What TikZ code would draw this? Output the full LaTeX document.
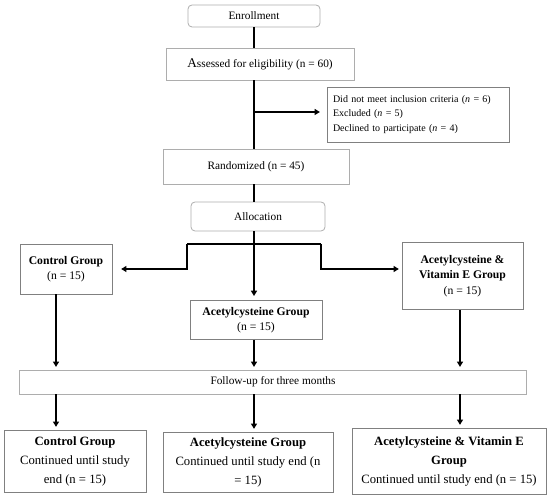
\documentclass[tikz,border=0pt]{standalone}
\usepackage{fontspec}
\setmainfont{Liberation Serif}
\usetikzlibrary{arrows.meta, positioning}
\definecolor{boxgray}{gray}{0.68}
\definecolor{grpgray}{gray}{0.5}
\tikzset{stage/.style={draw=boxgray, line width=0.6pt, align=center, inner sep=0pt,
                       font=\fontsize{8.5}{10}\selectfont},
         phase/.style={stage, rounded corners=3pt},
         group/.style={draw=grpgray, line width=0.7pt, align=center, inner sep=0pt,
                       font=\fontsize{8.75}{11.5}\selectfont},
         final/.style={group, font=\fontsize{9.5}{14.25}\selectfont},
         flow/.style={line width=1.1pt},
         arr/.style={flow, -{Triangle[length=4pt,width=4.5pt]}, shorten >=2pt}}

\begin{document}
\begin{tikzpicture}[x=0.75pt, y=-0.75pt]
\useasboundingbox (0,0) rectangle (550,498);
% stages
\node[phase, minimum width=99pt, minimum height=16.5pt] (enroll) at (254,16) {Enrollment};
\node[stage, minimum width=141pt, minimum height=24pt] (assess) at (260,64)
    {{\fontsize{10}{10}\selectfont A}ssessed for eligibility (n = 60)};
\node[stage, draw=grpgray, text width=127.5pt, inner xsep=4.5pt, align=left,
      minimum height=41.25pt, font=\fontsize{7.5}{11}\selectfont] (excl) at (418,114.5)
    {Did not meet inclusion criteria (\textit{n} = 6)\\
     Excluded (\textit{n} = 5)\\
     Declined to participate (\textit{n} = 4)};
\node[stage, minimum width=139.5pt, minimum height=26.25pt] (rand) at (256,166.5) {Randomized (n = 45)};
\node[phase, minimum width=100.5pt, minimum height=21.75pt] (alloc) at (258,216.5) {Allocation};
% groups
\node[group, minimum width=69pt, minimum height=37.5pt] (ctrl) at (66,269)
    {\textbf{Control Group}\\(n = 15)};
\node[group, minimum width=99pt, minimum height=29.25pt] (acet) at (256,320)
    {\textbf{Acetylcysteine Group}\\(n = 15)};
\node[group, minimum width=90.75pt, minimum height=50.6pt] (acvit) at (462.5,276)
    {\textbf{Acetylcysteine \&}\\\textbf{Vitamin E Group}\\(n = 15)};
\node[stage, minimum width=380pt, minimum height=18pt] (follow) at (273,382) {Follow-up for three months};
% end of study
\node[final, minimum width=106.5pt, minimum height=46.5pt] (ctrlE) at (75,461)
    {\textbf{Control Group}\\Continued until study\\end (n = 15)};
\node[final, minimum width=127.5pt, minimum height=45pt] (acetE) at (248,462)
    {\textbf{Acetylcysteine Group}\\Continued until study end (n\\= 15)};
\node[final, minimum width=145.5pt, minimum height=49.5pt] (acvitE) at (449,461)
    {\textbf{Acetylcysteine \& Vitamin E}\\\textbf{Group}\\Continued until study end (n = 15)};

\coordinate (colL) at (56,0);
\coordinate (colM) at (254,0);
\coordinate (colR) at (460,0);
\coordinate (split) at (254,112);
\coordinate (bl) at (187,244);
\coordinate (br) at (321,244);

\draw[flow] (enroll.south -| colM) -- (assess.north -| colM);
\draw[flow] (assess.south -| colM) -- (rand.north -| colM);
\draw[arr, shorten >=5pt] (split) -- (split -| excl.west);
\draw[flow] (rand.south -| colM) -- (alloc.north -| colM);
\draw[arr, shorten >=3pt] (alloc.south -| colM) -- (acet.north -| colM);
\draw[flow] (bl) -- (br);
\draw[arr, shorten >=6.5pt] (bl) |- (ctrl.east);
\draw[arr] (br) |- ([yshift=5.25pt]acvit.west);

\draw[arr] (ctrl.south -| colL) -- (follow.north -| colL);
\draw[arr] (acet.south -| colM) -- (follow.north -| colM);
\draw[arr] (acvit.south -| colR) -- (follow.north -| colR);
\draw[arr] (follow.south -| colL) -- (ctrlE.north -| colL);
\draw[arr] (follow.south -| colM) -- (acetE.north -| colM);
\draw[arr] (follow.south -| colR) -- (acvitE.north -| colR);
\end{tikzpicture}
\end{document}
